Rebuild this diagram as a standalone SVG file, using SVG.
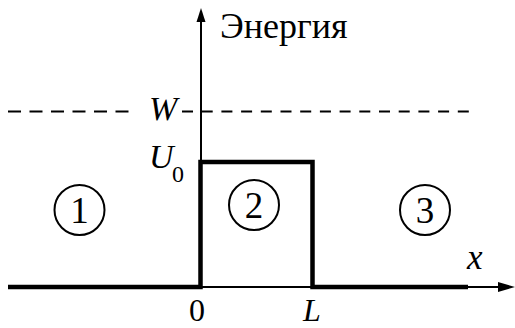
<svg xmlns="http://www.w3.org/2000/svg" width="515" height="328" viewBox="0 0 515 328">
<defs>
<style>
.thin{stroke:#000;stroke-width:2;fill:none}
.thick{stroke:#000;stroke-width:4.5;fill:none}
.dash{stroke:#000;stroke-width:2;fill:none}
.c{stroke:#000;stroke-width:2;fill:none}
.f{font-family:'Liberation Serif', serif}
</style>
</defs>
<rect width="515" height="328" fill="#fff"/>
<g id="connectors">
<line class="dash" x1="8" y1="111.5" x2="129" y2="111.5" stroke-dasharray="13 8.5"/>
<line class="dash" x1="182" y1="111.5" x2="472" y2="111.5" stroke-dasharray="11 8.7"/>
<line class="thin" x1="201" y1="287" x2="201" y2="20"/>
<polygon points="201,8 196.5,22 205.5,22" fill="#000"/>
<line class="thin" x1="199" y1="287" x2="500" y2="287"/>
<polygon points="515,287 498,282 498,292" fill="#000"/>
<polyline class="thick" points="8,287 200.5,287 200.5,162 312.5,162 312.5,287 468,287"/>
</g>
<g id="labels">
<text class="f" font-family="Liberation Serif" x="220" y="38" font-size="36">Энергия</text>
<text class="f" font-family="Liberation Serif" font-style="italic" x="149" y="120" font-size="34">W</text>
<text class="f" font-family="Liberation Serif" font-style="italic" x="149" y="168" font-size="34">U</text>
<text class="f" font-family="Liberation Serif" x="172" y="182" font-size="24">0</text>
<text class="f" font-family="Liberation Serif" x="197" y="321" font-size="32" text-anchor="middle">0</text>
<text class="f" font-family="Liberation Serif" font-style="italic" x="303" y="321" font-size="32">L</text>
<text class="f" font-family="Liberation Serif" font-style="italic" x="467" y="269" font-size="35">x</text>
</g>
<g id="region1">
<circle class="c" cx="79.5" cy="210" r="25"/>
<text class="f" font-family="Liberation Serif" x="79.5" y="223" font-size="37" text-anchor="middle">1</text>
</g>
<g id="region2">
<circle class="c" cx="254" cy="205" r="25"/>
<text class="f" font-family="Liberation Serif" x="254" y="218" font-size="37" text-anchor="middle">2</text>
</g>
<g id="region3">
<circle class="c" cx="425" cy="210" r="25"/>
<text class="f" font-family="Liberation Serif" x="425" y="223" font-size="37" text-anchor="middle">3</text>
</g>
</svg>
